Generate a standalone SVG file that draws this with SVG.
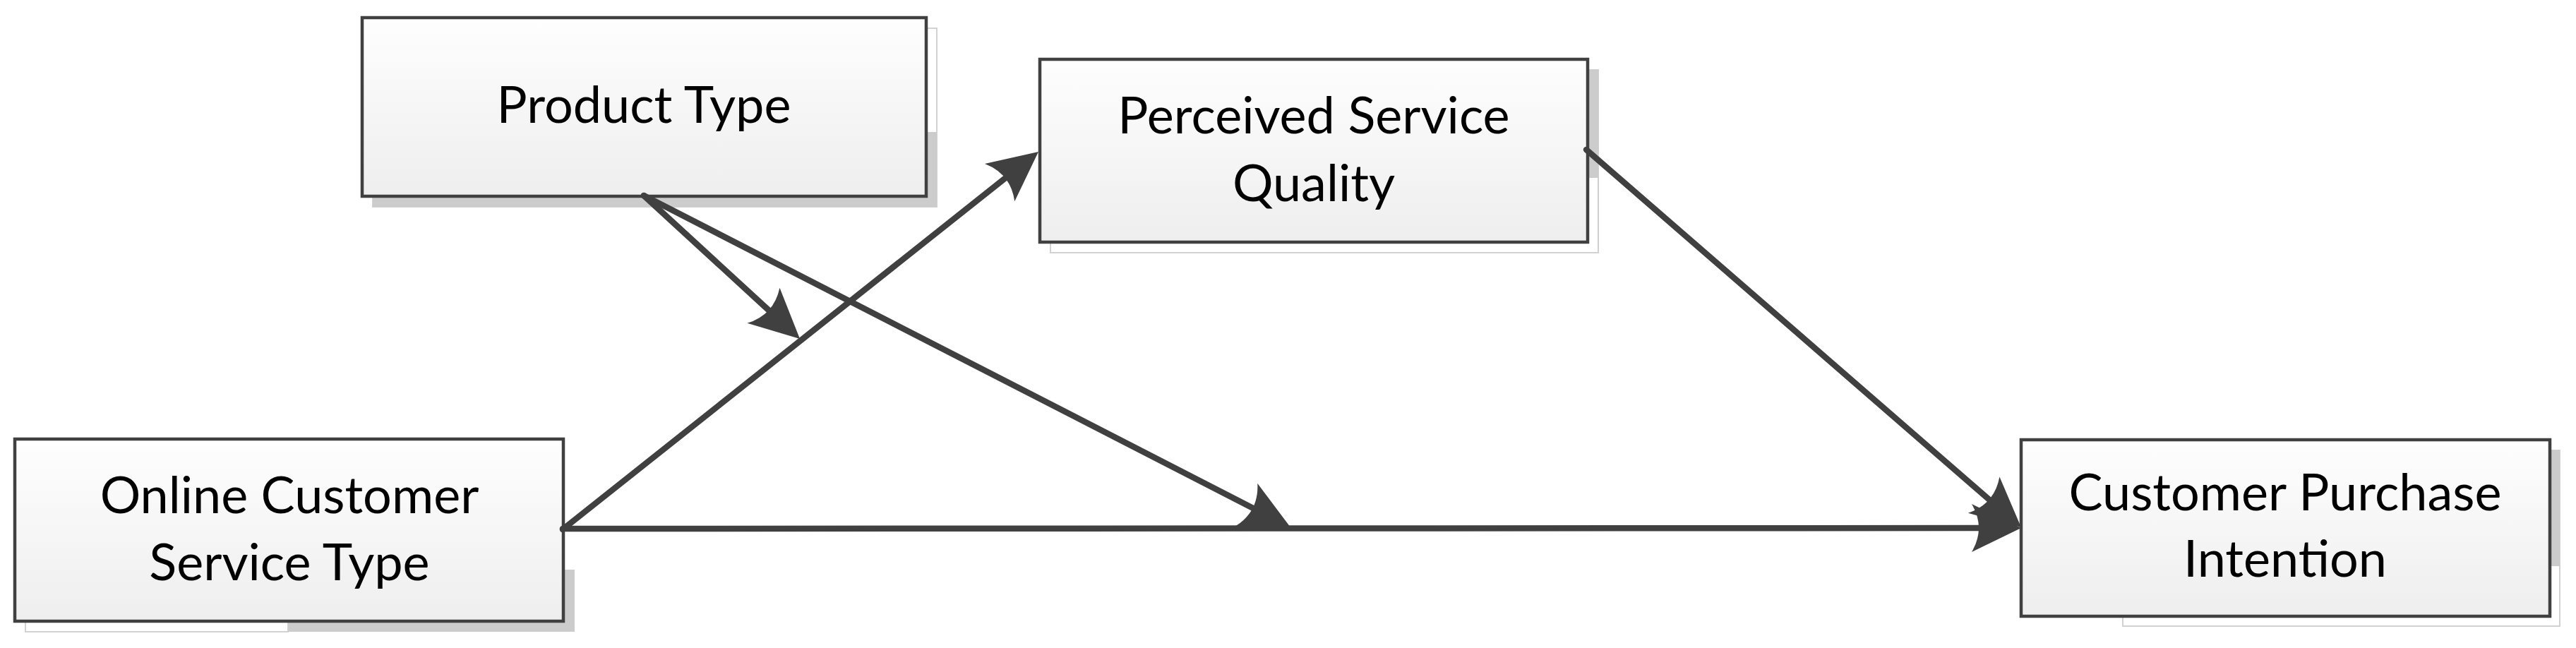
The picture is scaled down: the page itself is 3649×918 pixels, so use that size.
<svg xmlns="http://www.w3.org/2000/svg" width="3649" height="918" viewBox="0 0 3649 918">
<style>
.box{fill:url(#g);stroke:#404040;stroke-width:4.5}
.sh{fill:#cccccc}
.sho{fill:#ffffff;stroke:#d2d2d2;stroke-width:2}
.t{font-family:Lato,"Liberation Sans",sans-serif;font-size:72px;fill:#000;text-anchor:middle}
.c{fill:none;stroke:#404040;stroke-width:8.5;stroke-linecap:round}
</style>
<defs>
<linearGradient id="g" x1="0" y1="0" x2="0" y2="1">
<stop offset="0" stop-color="#fefefe"/>
<stop offset="1" stop-color="#eeeeee"/>
</linearGradient>
<marker id="ah" markerUnits="userSpaceOnUse" orient="auto" refX="0" refY="0" markerWidth="200" markerHeight="200" viewBox="-100 -100 200 200" overflow="visible">
<path d="M20,0 L-50,-34 Q-30,0 -50,34 Z" fill="#404040"/>
</marker>
</defs>
<rect width="3649" height="918" fill="#ffffff"/>
<g id="node-product-type">
<rect class="sho" x="528" y="40" width="799" height="253"/>
<rect class="sh" x="528" y="187" width="799" height="106"/>
<rect class="box" x="513" y="25" width="799" height="253"/>
<text class="t" x="912" y="174">Product Type</text>
</g>
<g id="node-perceived-service-quality">
<rect class="sho" x="1488" y="99" width="776" height="259"/>
<rect class="sh" x="1488" y="99" width="776" height="153"/>
<rect class="box" x="1473" y="84" width="776" height="259"/>
<text class="t" x="1861" y="189">Perceived Service</text>
<text class="t" x="1861" y="285">Quality</text>
</g>
<g id="node-online-customer-service-type">
<rect class="sho" x="36" y="637" width="372" height="258"/>
<rect class="sh" x="408" y="807" width="406" height="88"/>
<rect class="box" x="21" y="622" width="777" height="258"/>
<text class="t" x="410" y="727">Online Customer</text>
<text class="t" x="410" y="822">Service Type</text>
</g>
<g id="node-customer-purchase-intention">
<rect class="sho" x="3007" y="638" width="619" height="249"/>
<rect class="sh" x="2878" y="638" width="748" height="164"/>
<rect class="box" x="2863" y="623" width="749" height="250"/>
<text class="t" x="3237" y="723">Customer Purchase</text>
<text class="t" x="3237" y="817">Intention</text>
</g>
<g id="connectors">
<path class="c" d="M912,277 L1118.3,466.5" marker-end="url(#ah)"/>
<path class="c" d="M912,277 L1810.2,737.9" marker-end="url(#ah)"/>
<path class="c" d="M797,750 L1455.3,227.5" marker-end="url(#ah)"/>
<path class="c" d="M797,749 L2843,748" marker-end="url(#ah)"/>
<path class="c" d="M2247,212 L2847.9,733.9" marker-end="url(#ah)"/>
</g>
</svg>
